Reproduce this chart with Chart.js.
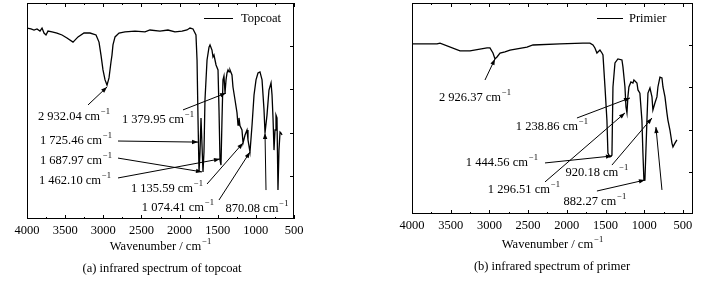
<!DOCTYPE html>
<html>
<head>
<meta charset="utf-8">
<script src="https://cdn.jsdelivr.net/npm/chart.js@4.4.1/dist/chart.umd.min.js"></script>
<style>
  html, body { margin: 0; padding: 0; background: #fff; }
  #wrap { position: relative; width: 717px; height: 281px; overflow: hidden; font-family: "Liberation Serif", "Times New Roman", serif; }
  .panel { position: absolute; top: 0; height: 281px; }
  .caption { position: absolute; font-size: 12.5px; color: #000; white-space: nowrap; transform: translateX(-50%); }
</style>
</head>
<body>
<div id="wrap">
  <div class="panel" style="left:0;width:358px"><canvas id="topcoatChart" width="358" height="281"></canvas></div>
  <div class="panel" style="left:358px;width:359px"><canvas id="primerChart" width="359" height="281"></canvas></div>
  <div class="caption" style="left:162px;top:261px">(a) infrared spectrum of topcoat</div>
  <div class="caption" style="left:552px;top:259px">(b) infrared spectrum of primer</div>
</div>
<script>
// Topcoat spectrum: wavenumber (cm-1) and transmittance (%)
const topcoatWavenumber = [4000, 3948, 3908, 3869, 3830, 3803, 3777, 3751, 3725, 3672,
  3607, 3541, 3476, 3397, 3331, 3253, 3174, 3095, 3056, 3030,
  3004, 2977, 2951, 2925, 2899, 2886, 2873, 2846, 2794, 2715,
  2584, 2453, 2388, 2257, 2152, 2060, 1968, 1903, 1863, 1824,
  1785, 1771, 1758, 1745, 1732, 1719, 1706, 1693, 1680, 1667,
  1640, 1614, 1601, 1575, 1562, 1549, 1522, 1496, 1483, 1470,
  1457, 1444, 1431, 1418, 1404, 1391, 1378, 1365, 1352, 1339,
  1313, 1300, 1273, 1247, 1234, 1221, 1208, 1182, 1168, 1142,
  1116, 1103, 1077, 1050, 1024, 998, 972, 946, 919, 893,
  880, 854, 828, 801, 788, 775, 762, 749, 736, 723,
  710, 697, 683, 670, 657];
const topcoatTransmittance = [88.4, 88.0, 87.5, 88.0, 87.0, 88.4, 86.1, 85.2, 87.0, 86.6,
  86.1, 85.2, 83.8, 81.9, 84.3, 86.1, 86.1, 85.2, 81.9, 75.9,
  69.0, 64.4, 62.0, 65.3, 72.7, 75.9, 80.6, 84.3, 86.1, 86.6,
  87.0, 86.6, 87.5, 87.0, 87.5, 86.6, 87.0, 87.5, 88.4, 88.0,
  85.2, 73.6, 45.8, 21.8, 31.0, 46.8, 46.8, 21.8, 31.0, 55.1,
  73.6, 79.6, 80.6, 78.2, 75.0, 75.9, 71.3, 69.0, 50.5, 27.3,
  25.0, 45.8, 64.4, 66.2, 58.3, 64.4, 67.6, 69.0, 68.1, 69.0,
  66.7, 61.1, 55.1, 49.1, 43.5, 46.8, 43.1, 41.2, 35.2, 38.9,
  41.2, 36.6, 31.0, 43.5, 57.4, 64.4, 67.6, 68.1, 64.4, 50.5,
  39.8, 48.1, 59.7, 63.0, 57.4, 46.8, 31.9, 41.2, 48.1, 46.8,
  13.4, 31.9, 40.3, 39.8, 38.9];

// Primer spectrum
const primerWavenumber = [4000, 3677, 3638, 3380, 3251, 3031, 2993, 2954, 2928, 2902,
  2863, 2799, 2734, 2515, 2437, 2089, 1792, 1701, 1662, 1637,
  1611, 1598, 1572, 1546, 1533, 1507, 1482, 1469, 1443, 1417,
  1404, 1378, 1340, 1288, 1275, 1249, 1236, 1223, 1211, 1198,
  1172, 1146, 1133, 1094, 1081, 1056, 1030, 1017, 1004, 991,
  965, 952, 926, 900, 888, 862, 836, 823, 797, 771,
  758, 732, 707, 694, 668, 642, 629, 603, 578];
const primerTransmittance = [80.6, 80.6, 81.0, 77.3, 77.3, 78.7, 78.7, 76.3, 73.5, 74.4,
  76.3, 76.8, 77.7, 79.1, 80.1, 80.6, 81.0, 81.0, 80.1, 78.7,
  76.3, 76.8, 77.7, 76.3, 75.4, 60.2, 44.5, 28.9, 27.0, 27.9,
  60.2, 71.6, 73.5, 73.0, 69.7, 60.2, 50.7, 47.9, 55.5, 60.2,
  62.6, 62.1, 63.5, 62.1, 58.8, 57.3, 44.5, 28.9, 16.1, 16.1,
  44.5, 57.3, 59.7, 55.5, 49.3, 52.6, 55.5, 60.2, 64.9, 64.5,
  60.2, 55.5, 47.9, 44.5, 39.8, 33.6, 31.8, 33.6, 35.1];

// x axis tick labels
const wavenumberTicks = [4000, 3500, 3000, 2500, 2000, 1500, 1000, 500];

// labelled peaks
const topcoatPeaks = [2932.04, 1379.95, 1725.46, 1687.97, 1462.10, 1135.59, 1074.41, 870.08];
const primerPeaks = [2926.37, 1238.86, 1444.56, 1296.51, 920.18, 882.27];

// where each peak label sits and where its arrow runs (axis units):
// [textX, textY, fromX, fromY, toX, toY]
const topcoatLabelPos = [
  [3384, 47.2, 3200, 52.8, 2951, 61.1],
  [2283, 45.8, 1955, 50.5, 1391, 58.3],
  [3358, 36.1, 2807, 36.1, 1758, 35.6],
  [3358, 26.9, 2807, 28.2, 1706, 21.8],
  [3371, 17.6, 2807, 19.0, 1470, 27.8],
  [2165, 13.9, 1640, 16.2, 1168, 35.2],
  [2021, 5.1, 1483, 8.8, 1077, 31.0],
  [985, 4.6, 867, 13.4, 880, 39.8]
];
const primerLabelPos = [
  [3186, 55.0, 3057, 63.5, 2928, 73.5],
  [2192, 41.2, 1869, 45.5, 1184, 55.0],
  [2838, 24.2, 2282, 24.2, 1417, 27.5],
  [2554, 11.4, 2282, 15.2, 1249, 47.9],
  [1611, 19.4, 1417, 23.2, 900, 45.5],
  [1637, 5.7, 1611, 10.9, 991, 16.1]
];
const primerExtraArrows = [[771, 11.4, 849, 41.2]];

const FONT = '12.5px "Liberation Serif", "Times New Roman", serif';
const SUP_FONT = '8.5px "Liberation Serif", "Times New Roman", serif';

// format 2932.04 -> "2 932.04"
function fmt(n) {
  if (n < 1000) return n.toFixed(2);
  const th = Math.floor(n / 1000);
  return th + " " + (n - th * 1000).toFixed(2).padStart(6, "0");
}

// text with a superscript "-1" centred on cx
function supText(ctx, base, cx, cy) {
  ctx.font = FONT;
  const w1 = ctx.measureText(base).width;
  ctx.font = SUP_FONT;
  const w2 = ctx.measureText("\u22121").width;
  const x0 = cx - (w1 + 1 + w2) / 2;
  ctx.textAlign = "left";
  ctx.textBaseline = "middle";
  ctx.font = FONT;
  ctx.fillText(base, x0, cy);
  ctx.font = SUP_FONT;
  ctx.fillText("\u22121", x0 + w1 + 1, cy - 5);
}

function arrow(ctx, x0, y0, x1, y1) {
  ctx.beginPath();
  ctx.moveTo(x0, y0);
  ctx.lineTo(x1, y1);
  ctx.stroke();
  const ang = Math.atan2(y1 - y0, x1 - x0);
  const L = 6, W = 2.2;
  ctx.beginPath();
  ctx.moveTo(x1, y1);
  ctx.lineTo(x1 - L * Math.cos(ang) + W * Math.sin(ang), y1 - L * Math.sin(ang) - W * Math.cos(ang));
  ctx.lineTo(x1 - L * Math.cos(ang) - W * Math.sin(ang), y1 - L * Math.sin(ang) + W * Math.cos(ang));
  ctx.closePath();
  ctx.fill();
}

// frame, inward ticks, legend, peak labels and axis title
const decor = {
  id: "decor",
  afterDatasetsDraw(chart, args, o) {
    const { ctx, chartArea: a, scales: { x, y } } = chart;
    ctx.save();
    ctx.strokeStyle = "#000";
    ctx.fillStyle = "#000";
    ctx.lineWidth = 1;
    ctx.strokeRect(a.left + 0.5, a.top + 0.5, a.width - 1, a.height - 1);

    const seg = (x0, y0, x1, y1) => {
      ctx.beginPath();
      ctx.moveTo(x0, y0);
      ctx.lineTo(x1, y1);
      ctx.stroke();
    };
    wavenumberTicks.forEach((v, i) => {
      const px = Math.round(x.getPixelForValue(v)) + 0.5;
      seg(px, a.bottom, px, a.bottom - 4);
      seg(px, a.top, px, a.top + 4);
      if (i > 0) {
        const mx = Math.round(x.getPixelForValue(v + 250)) + 0.5;
        seg(mx, a.bottom, mx, a.bottom - 2);
        seg(mx, a.top, mx, a.top + 2);
      }
    });
    [20, 40, 60, 80].forEach((v) => {
      const py = Math.round(y.getPixelForValue(v)) + 0.5;
      seg(a.right, py, a.right - 4, py);
    });

    // legend
    const ly = a.top + 15.5;
    seg(a.right - o.legend[0], ly, a.right - o.legend[1], ly);
    ctx.font = FONT;
    ctx.textAlign = "left";
    ctx.textBaseline = "middle";
    ctx.fillText(chart.data.datasets[0].label, a.right - o.legend[2], ly);

    // peak labels
    o.peaks.forEach((p, i) => {
      const [tx, ty, fx, fy, ex, ey] = o.pos[i];
      supText(ctx, fmt(p) + " cm", x.getPixelForValue(tx), y.getPixelForValue(ty));
      arrow(ctx, x.getPixelForValue(fx), y.getPixelForValue(fy), x.getPixelForValue(ex), y.getPixelForValue(ey));
    });
    (o.extra || []).forEach(([fx, fy, ex, ey]) => {
      arrow(ctx, x.getPixelForValue(fx), y.getPixelForValue(fy), x.getPixelForValue(ex), y.getPixelForValue(ey));
    });

    supText(ctx, "Wavenumber / cm", (a.left + a.right) / 2, a.bottom + o.titleGap);
    ctx.restore();
  }
};

function makeChart(id, label, wn, tr, minX, pad, axisHeight, extraOpts) {
  const ctx = document.getElementById(id).getContext("2d");
  return new Chart(ctx, {
    type: "line",
    data: {
      datasets: [{
        label: label,
        data: wn.map((w, i) => ({ x: w, y: tr[i] })),
        borderColor: "#000",
        borderWidth: 1.3,
        pointRadius: 0,
        tension: 0,
        fill: false
      }]
    },
    options: {
      responsive: false,
      animation: false,
      layout: { padding: pad },
      scales: {
        x: {
          type: "linear",
          reverse: true,
          min: minX,
          max: 4000,
          afterBuildTicks: (s) => { s.ticks = wavenumberTicks.map((v) => ({ value: v })); },
          afterFit: (s) => { s.height = axisHeight; },
          grid: { display: false, drawTicks: false },
          border: { display: false },
          ticks: {
            autoSkip: false,
            maxRotation: 0,
            padding: 4,
            color: "#000",
            font: { family: '"Liberation Serif", "Times New Roman", serif', size: 12.5 },
            callback: (v) => String(v)
          }
        },
        y: { display: false, min: 0, max: 100 }
      },
      plugins: {
        legend: { display: false },
        tooltip: { enabled: false },
        decor: extraOpts
      }
    },
    plugins: [decor]
  });
}

const topcoatChart = makeChart("topcoatChart", "Topcoat", topcoatWavenumber, topcoatTransmittance, 500,
  { left: 27, right: 64, top: 3, bottom: 0 }, 62,
  { legend: [90, 61, 53], peaks: topcoatPeaks, pos: topcoatLabelPos, titleGap: 28 });

const primerChart = makeChart("primerChart", "Primier", primerWavenumber, primerTransmittance, 370,
  { left: 54, right: 24, top: 3, bottom: 0 }, 67,
  { legend: [96, 70, 64], peaks: primerPeaks, pos: primerLabelPos, extra: primerExtraArrows, titleGap: 31 });
</script>
</body>
</html>
